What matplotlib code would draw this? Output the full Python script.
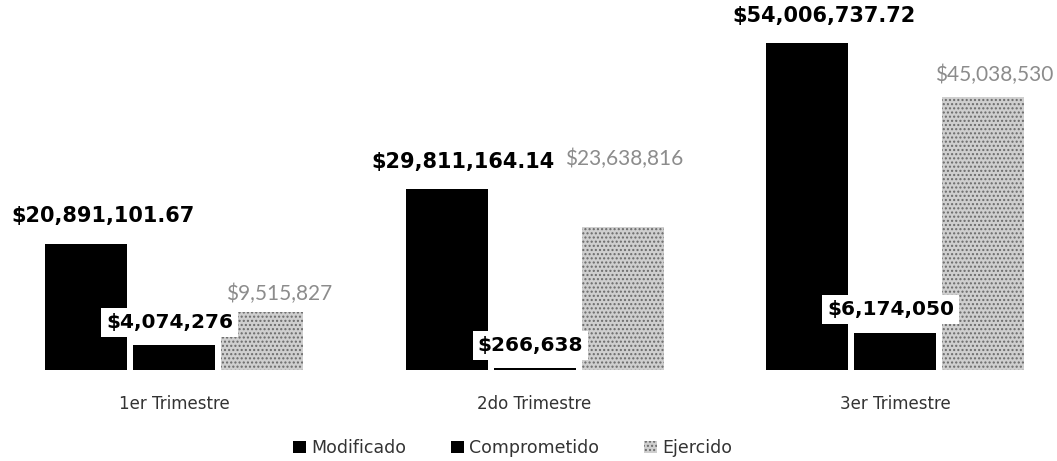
import numpy as np
import matplotlib
matplotlib.use("Agg")
import matplotlib.pyplot as plt
from matplotlib.patches import Patch

categories = ["1er Trimestre", "2do Trimestre", "3er Trimestre"]
series = ["Modificado", "Comprometido", "Ejercido"]
modificado = [20891101.67, 29811164.14, 54006737.72]
comprometido = [4074276, 266638, 6174050]
ejercido = [9515827, 23638816, 45038530]

mod_labels = ["$20,891,101.67", "$29,811,164.14", "$54,006,737.72"]
com_labels = ["$4,074,276", "$266,638", "$6,174,050"]
eje_labels = ["$9,515,827", "$23,638,816", "$45,038,530"]

fig = plt.figure(figsize=(10.57, 4.61), dpi=100)
ax = fig.add_axes([0, 91 / 461, 1, 370 / 461])

x = np.arange(len(categories))
w = 82 / 360.5
off = 88 / 360.5

ax.bar(x - off, modificado, w, color="black")
ax.bar(x, comprometido, w, color="black")
ax.bar(x + off, ejercido, w, color="#cfcfcf", edgecolor="#6a6a6a",
       hatch="....", linewidth=0)

# etiquetas
for i in range(3):
    ax.annotate(mod_labels[i], (x[i] - off, modificado[i]), xytext=(12, 19.5),
                textcoords="offset points", ha="center", va="center",
                fontsize=15, fontweight="bold", color="black")
    ax.annotate(com_labels[i], (x[i], comprometido[i]), xytext=(-3, 16.5),
                textcoords="offset points", ha="center", va="center",
                fontsize=14.5, fontweight="bold", color="black",
                bbox=dict(boxstyle="square,pad=0.25", fc="white", ec="none"))

eje_offsets = [(12, 13), (1, 49), (8, 16)]
for i in range(3):
    ax.annotate(eje_labels[i], (x[i] + off, ejercido[i]), xytext=eje_offsets[i],
                textcoords="offset points", ha="center", va="center",
                fontsize=15, family="Lato", fontweight="normal", color="#8c8c8c")

ax.set_xlim(-174 / 360.5, (1057 - 174) / 360.5)
ax.set_ylim(0, 54006737.72 * 370 / 327)
ax.set_xticks(x)
ax.set_xticklabels(categories, fontsize=12, color="#333333")
ax.tick_params(axis="x", length=0, pad=18)
ax.set_yticks([])
for s in ax.spines.values():
    s.set_visible(False)

handles = [Patch(facecolor="black"), Patch(facecolor="black"),
           Patch(facecolor="#cfcfcf", edgecolor="#6a6a6a", hatch="....", linewidth=0)]
fig.legend(handles, series, loc="center", bbox_to_anchor=(0.485, 0.028), ncol=3,
           frameon=False, fontsize=12.5, handlelength=0.75, handleheight=0.75,
           handletextpad=0.3, columnspacing=2.6, labelcolor="#333333")

fig.savefig("out.png", dpi=100)
